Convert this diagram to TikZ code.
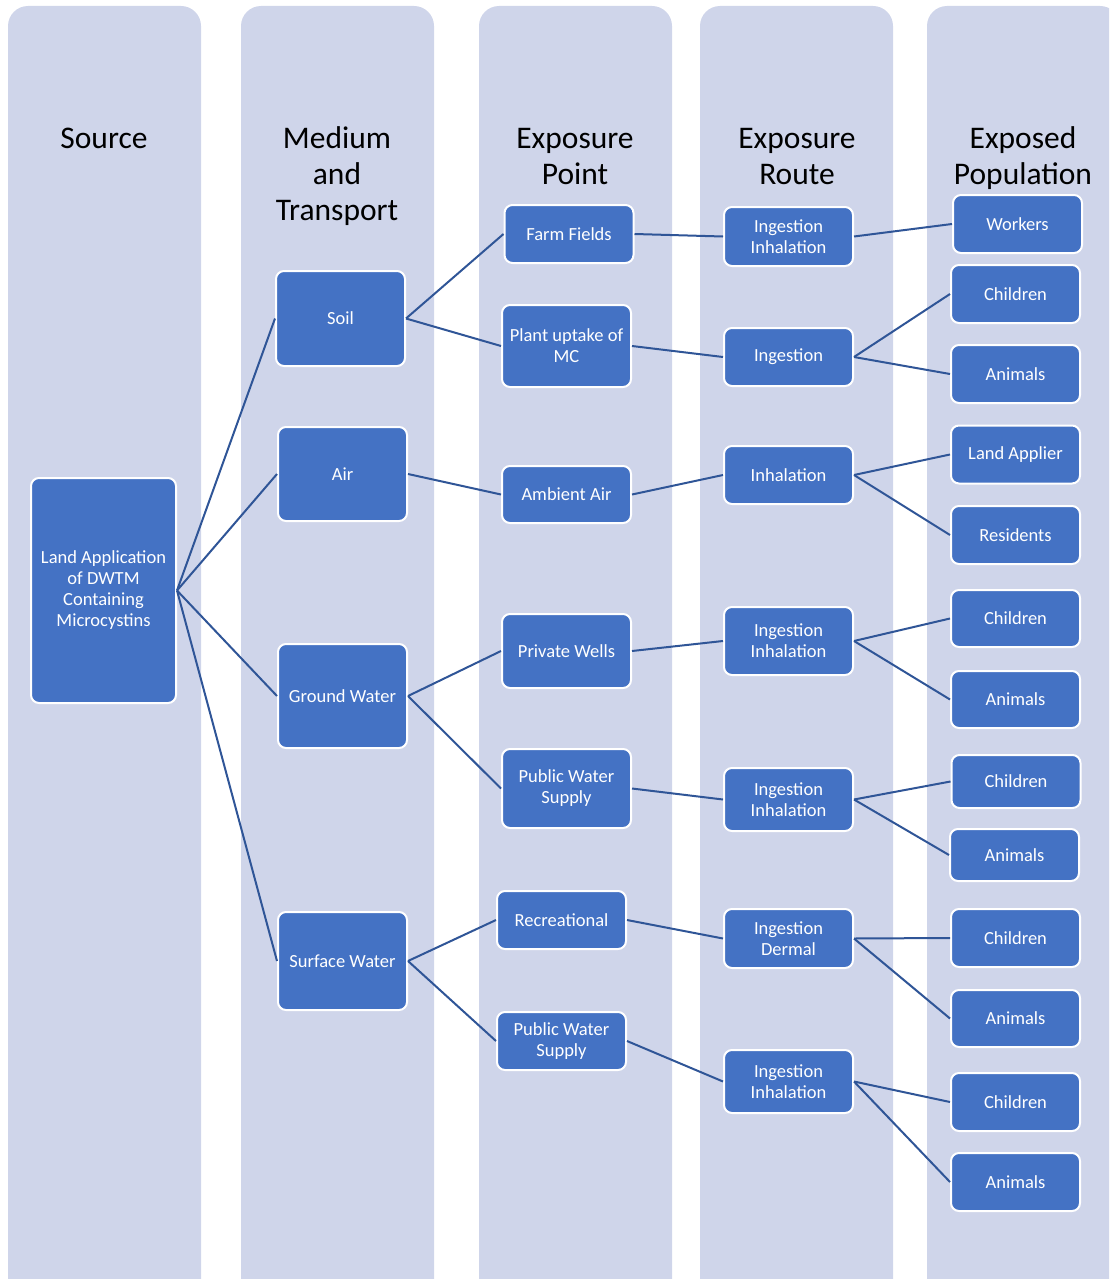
\documentclass[tikz,border=0pt]{standalone}
\usepackage{fontspec}
\setmainfont{Carlito}
\definecolor{lanecol}{RGB}{207,213,234}
\definecolor{boxcol}{RGB}{68,114,196}
\definecolor{linkcol}{RGB}{47,85,151}

\begin{document}
\begin{tikzpicture}[x=1pt,y=-1pt,
	box/.style={draw=white,line width=2pt,fill=boxcol,text=white,rounded corners=8pt,align=center,inner sep=1pt,minimum width=129,minimum height=58,font=\fontsize{18.5}{21}\selectfont},
	head/.style={align=center,anchor=base,inner sep=0pt,font=\fontsize{31.5}{36}\selectfont},
	link/.style={linkcol,line width=2pt}]
\useasboundingbox(0,0)rectangle(1109,1279);
\clip(0,0)rectangle(1109,1279);
% lanes
\foreach\x in{8,241,479,700,927}
	\fill[lanecol,rounded corners=20pt](\x,6)rectangle++(193,1320);
% headings (anchored at last baseline)
\node[head](hsrc)at(104,148){Source};
\node[head](hmed)at(337,220){Medium\\and\\Transport};
\node[head](hpt)at(575,184){Exposure\\Point};
\node[head](hrt)at(797,184){Exposure\\Route};
\node[head](hpop)at(1023,184){Exposed\\Population};
% source and media
\node[box,minimum width=145,minimum height=225](src)at(103.5,590.5){Land Application\\of DWTM\\Containing\\Microcystins};
\node[box,minimum height=95](soil)at(340.5,318.5){Soil};
\node[box,minimum height=94](air)at(342.5,474){Air};
\node[box,minimum height=104](gw)at(342.5,696){Ground Water};
\node[box,minimum height=98](sw)at(342.5,961){Surface Water};
% exposure points
\node[box](farm)at(569,234){Farm Fields};
\node[box,minimum height=82](plant)at(566.5,346){Plant uptake of\\MC};
\node[box,minimum height=57](amb)at(566.5,494.5){Ambient Air};
\node[box,minimum height=74](wells)at(566.5,651){Private Wells};
\node[box,minimum height=79](pws)at(566.5,788.5){Public Water\\Supply};
\node[box](rec)at(561.5,920){Recreational};
\node[box](pwsb)at(561.5,1041){Public Water\\Supply};
% exposure routes
\node[box,minimum height=59](r1)at(788.5,236.5){Ingestion\\Inhalation};
\node[box](r2)at(788.5,357){Ingestion};
\node[box](r3)at(788.5,475){Inhalation};
\node[box,minimum height=68](r4)at(788.5,641){Ingestion\\Inhalation};
\node[box,minimum height=63](r5)at(788.5,799.5){Ingestion\\Inhalation};
\node[box,minimum height=59](r6)at(788.5,938.5){Ingestion\\Dermal};
\node[box,minimum height=63](r7)at(788.5,1081.5){Ingestion\\Inhalation};
% exposed population
\node[box](p1)at(1017.5,224){Workers};
\node[box](p2)at(1015.5,294){Children};
\node[box](p3)at(1015.5,374){Animals};
\node[box](p4)at(1015.5,454.5){Land Applier};
\node[box](p5)at(1015.5,535){Residents};
\node[box,minimum height=57](p6)at(1015.5,618.5){Children};
\node[box,minimum height=57](p7)at(1015.5,699.5){Animals};
\node[box,minimum height=53](p8)at(1016,781.5){Children};
\node[box,minimum height=52](p9)at(1014.5,855){Animals};
\node[box](p10)at(1015.5,938){Children};
\node[box,minimum height=57](p11)at(1015.5,1018.5){Animals};
\node[box](p12)at(1015.5,1102){Children};
\node[box](p13)at(1015.5,1182){Animals};
% links
\foreach\a/\b in{src/soil,src/air,src/gw,src/sw,soil/farm,soil/plant,air/amb,gw/wells,gw/pws,sw/rec,sw/pwsb,
	farm/r1,plant/r2,amb/r3,wells/r4,pws/r5,rec/r6,pwsb/r7,
	r1/p1,r2/p2,r2/p3,r3/p4,r3/p5,r4/p6,r4/p7,r5/p8,r5/p9,r6/p10,r6/p11,r7/p12,r7/p13}
	\draw[link](\a.east)--(\b.west);
\end{tikzpicture}
\end{document}
